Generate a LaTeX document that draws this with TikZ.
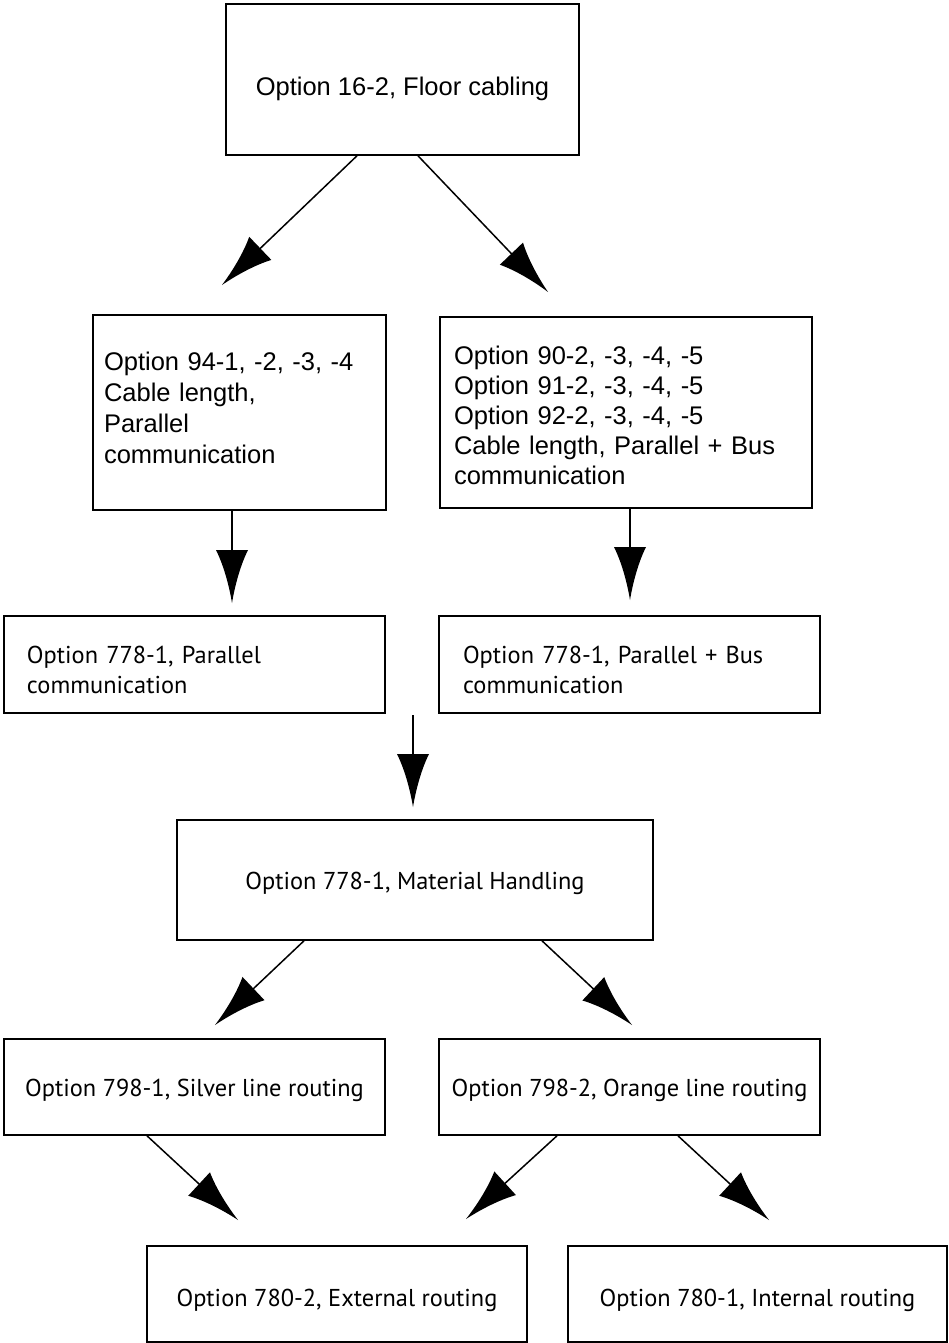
\documentclass[tikz,border=0pt]{standalone}
\usepackage{fontspec}
\setmainfont{Liberation Sans}
\newfontfamily\myr{PT Sans}
\usetikzlibrary{arrows.meta}
\pgfdeclarearrow{
  name = Kon,
  setup code = {
    \pgfarrowssettipend{0pt}
    \pgfarrowssetlineend{-30pt}
    \pgfarrowssetbackend{-53pt}
  },
  drawing code = {
    \pgfpathmoveto{\pgfpointorigin}
    \pgfpathcurveto{\pgfpoint{-18pt}{3pt}}{\pgfpoint{-38pt}{8.5pt}}{\pgfpoint{-53pt}{16pt}}
    \pgfpathlineto{\pgfpoint{-53pt}{-16pt}}
    \pgfpathcurveto{\pgfpoint{-38pt}{-8.5pt}}{\pgfpoint{-18pt}{-3pt}}{\pgfpointorigin}
    \pgfpathclose
    \pgfusepathqfill
  }
}
\tikzset{
  box/.style={draw, line width=1.6pt, inner sep=0pt},
  arial/.style={font=\fontsize{25.5pt}{31pt}\selectfont},
  arialb/.style={font=\fontsize{25.5pt}{30pt}\selectfont},
  myriad/.style={font=\myr\fontsize{24.4pt}{30pt}\selectfont},
  conn/.style={line width=1.5pt, -{Kon}},
}
\begin{document}
\begin{tikzpicture}[x=1pt,y=-1pt]
\useasboundingbox (0,0) rectangle (948,1343);

\node[box, arial, minimum width=353pt, minimum height=151pt, text height=39pt, text depth=6pt] (b1) at (402.5,79.5) {Option 16-2, Floor cabling};

\node[box, arial, align=left, text width=271pt, inner xsep=11pt, minimum height=195pt] (b2) at (239.5,412.5)
  {Option 94-1, -2, -3, -4\\Cable length,\\Parallel\\communication\rule[-10pt]{0pt}{10pt}};

\node[box, arialb, align=left, text width=344pt, inner xsep=14pt, minimum height=191pt] (b3) at (626,412.5)
  {\rule{0pt}{25pt}Option 90-2, -3, -4, -5\\Option 91-2, -3, -4, -5\\Option 92-2, -3, -4, -5\\Cable length, Parallel + Bus\\communication};

\node[box, myriad, align=left, text width=335pt, inner xsep=23pt, minimum height=97pt] (b4) at (194.5,664.5)
  {\rule{0pt}{27.5pt}Option 778-1, Parallel\\communication};

\node[box, myriad, align=left, text width=333pt, inner xsep=24pt, minimum height=97pt] (b5) at (629.5,664.5)
  {\rule{0pt}{27.5pt}Option 778-1, Parallel + Bus\\communication};

\node[box, myriad, minimum width=476pt, minimum height=120pt, text height=25pt, text depth=6pt] (b6) at (415,880) {Option 778-1, Material Handling};

\node[box, myriad, minimum width=381pt, minimum height=96pt, text height=25pt, text depth=6pt] (b7) at (194.5,1087) {Option 798-1, Silver line routing};
\node[box, myriad, minimum width=381pt, minimum height=96pt, text height=25pt, text depth=6pt] (b8) at (629.5,1087) {Option 798-2, Orange line routing};

\node[box, myriad, minimum width=380pt, minimum height=96pt, text height=31pt, text depth=6pt] (b9) at (337,1294) {Option 780-2, External routing};
\node[box, myriad, minimum width=379pt, minimum height=96pt, text height=31pt, text depth=6pt] (b10) at (757.5,1294) {Option 780-1, Internal routing};

\coordinate (c1) at (222,285);
\coordinate (c2) at (548,292);
\coordinate (c3) at (232,603);
\coordinate (c4) at (630,600);
\coordinate (s5) at (413,715);
\coordinate (c5) at (413,807);
\coordinate (c6) at (215,1025);
\coordinate (c7) at (632,1025);
\coordinate (c8) at (238,1220);
\coordinate (c9) at (466,1219);
\coordinate (c10) at (769,1220);

\draw[conn] ([xshift=-45.5pt]b1.south) -- (c1);
\draw[conn] ([xshift=15.5pt]b1.south) -- (c2);
\draw[conn] ([xshift=-7.5pt]b2.south) -- (c3);
\draw[conn] ([xshift=4pt]b3.south) -- (c4);
\draw[conn] (s5) -- (c5);
\draw[conn] ([xshift=-111pt]b6.south) -- (c6);
\draw[conn] ([xshift=127pt]b6.south) -- (c7);
\draw[conn] ([xshift=-47.5pt]b7.south) -- (c8);
\draw[conn] ([xshift=-72.5pt]b8.south) -- (c9);
\draw[conn] ([xshift=48.5pt]b8.south) -- (c10);
\end{tikzpicture}
\end{document}
